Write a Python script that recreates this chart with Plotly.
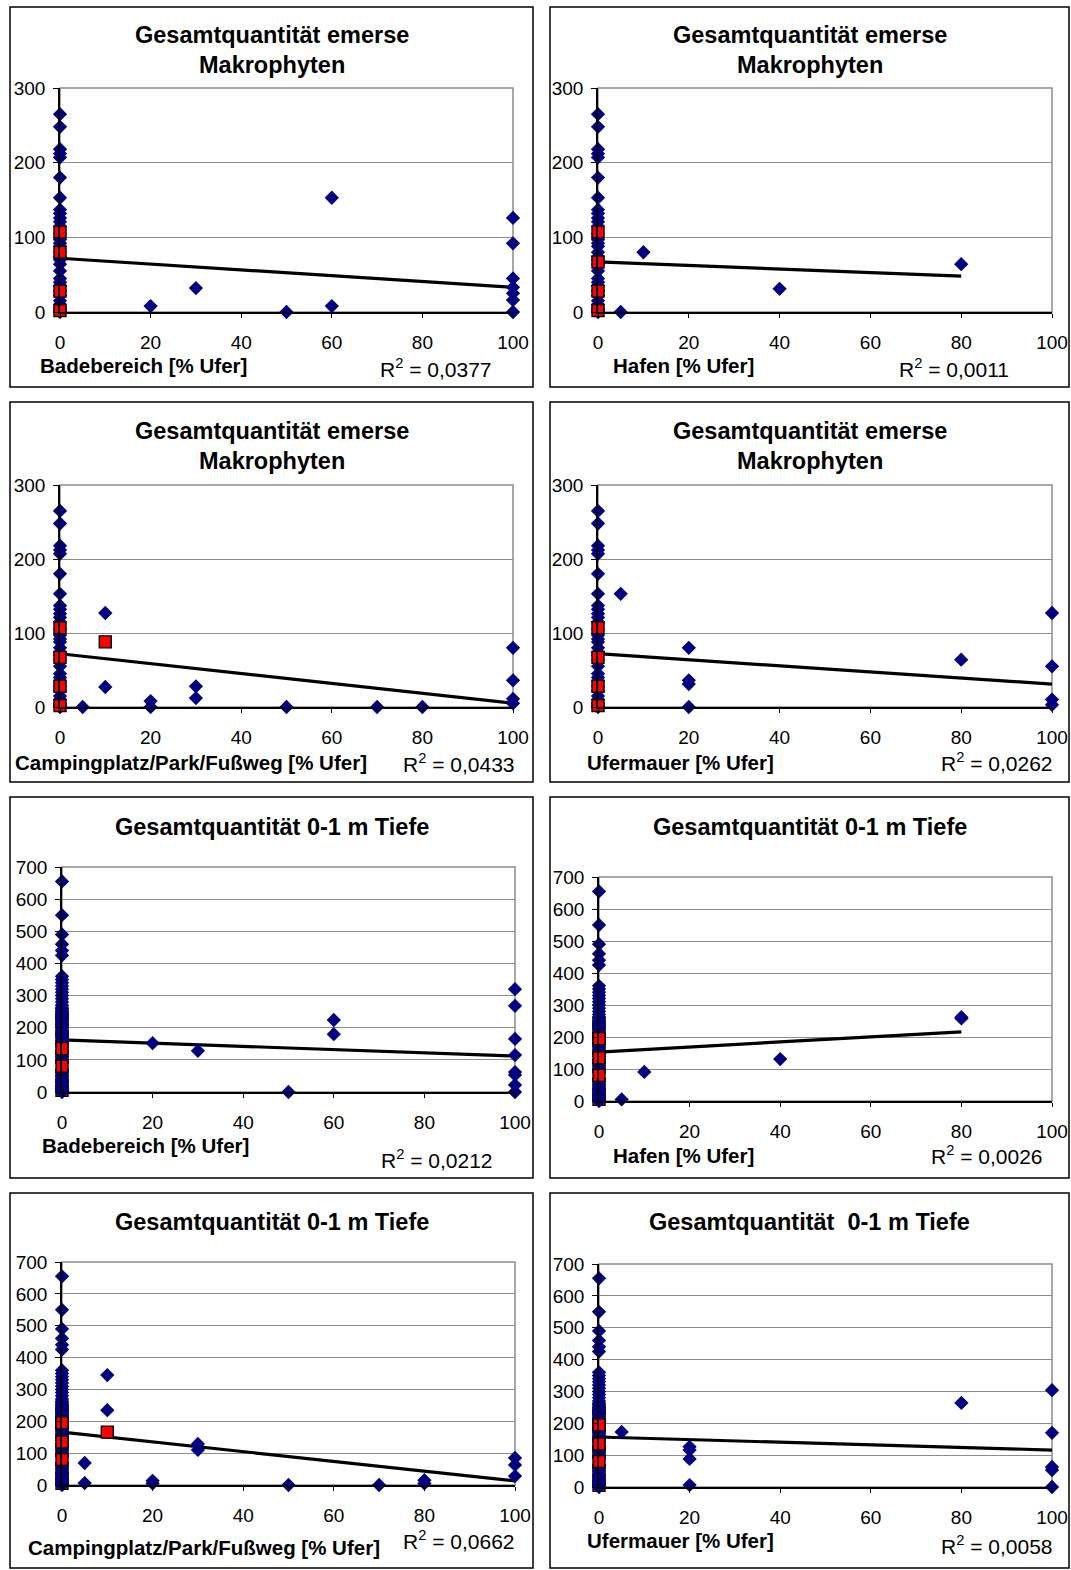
import plotly.graph_objects as go

W, H = 1071, 1570

# ---------------- data ----------------
# values at x = 0 (shared column of lakes)
emerse_x0_y = [265, 248, 218, 212, 207, 180, 153, 137, 132, 126, 121, 115, 105, 97, 92,
               88, 80, 74, 70, 64, 55, 45, 40, 35, 28, 22, 15, 10, 5, 2, 0]
tief_x0_y = [655, 550, 490, 460, 440, 425, 360, 350, 340, 330, 320, 310, 300, 290, 280,
             270, 260, 250, 240, 230, 220, 210, 200, 190, 180, 170, 160, 150, 140, 130,
             120, 110, 100, 90, 70, 60, 50, 40, 30, 20, 10, 5, 0]

# red squares at x = 0
emerse_red_bade_y = [107, 80, 28, 2]
emerse_red_y = [107, 67, 28, 2]
tief_red_under_y = [245, 225, 195, 165, 110, 50, 20, 5]
tief_red_over_bade_y = [135, 80]
tief_red_over_y = [195, 135, 80]

# non-zero shore fractions
bade_em_x = [20, 30, 50, 60, 60, 100, 100, 100, 100, 100, 100, 100]
bade_em_y = [8, 32, 0, 153, 8, 126, 92, 45, 33, 25, 16, 0]
hafen_em_x = [5, 10, 40, 80]
hafen_em_y = [0, 80, 31, 64]
camp_em_x = [5, 10, 10, 20, 20, 30, 30, 50, 70, 80, 100, 100, 100, 100]
camp_em_y = [0, 127, 27, 8, 0, 28, 12, 0, 0, 0, 80, 36, 11, 5]
camp_em_red_x = [10]
camp_em_red_y = [88]
mauer_em_x = [5, 20, 20, 20, 20, 80, 100, 100, 100, 100]
mauer_em_y = [153, 80, 36, 31, 0, 64, 127, 55, 10, 3]

bade_t_x = [20, 30, 50, 60, 60, 100, 100, 100, 100, 100, 100, 100, 100]
bade_t_y = [152, 128, 0, 224, 180, 320, 268, 165, 115, 62, 53, 22, 0]
hafen_t_x = [5, 10, 40, 80, 80]
hafen_t_y = [5, 91, 131, 262, 258]
camp_t_x = [5, 5, 10, 10, 20, 20, 30, 30, 50, 70, 80, 80, 100, 100, 100]
camp_t_y = [69, 6, 345, 235, 13, 5, 129, 110, 0, 0, 15, 5, 85, 63, 28]
camp_t_red_x = [10]
camp_t_red_y = [166]
mauer_t_x = [5, 20, 20, 20, 20, 80, 100, 100, 100, 100, 100]
mauer_t_y = [173, 126, 116, 88, 6, 264, 304, 170, 63, 53, 0]

# trend lines (start/end)
trend_x = {
    "p1": [0, 100], "p2": [0, 80], "p3": [0, 100], "p4": [0, 100],
    "p5": [0, 100], "p6": [0, 80], "p7": [0, 100], "p8": [0, 100],
}
trend_y = {
    "p1": [72, 33], "p2": [67, 48], "p3": [72, 5], "p4": [72, 31],
    "p5": [162, 112], "p6": [153, 216], "p7": [166, 13], "p8": [157, 116],
}

title_emerse = ["Gesamtquantität emerse", "Makrophyten"]
title_tief = ["Gesamtquantität 0-1 m Tiefe"]
title_tief2 = ["Gesamtquantität&nbsp; 0-1 m Tiefe"]
xlabels = ["Badebereich [% Ufer]", "Hafen [% Ufer]", "Campingplatz/Park/Fußweg [% Ufer]",
           "Ufermauer [% Ufer]", "Badebereich [% Ufer]", "Hafen [% Ufer]",
           "Campingplatz/Park/Fußweg [% Ufer]", "Ufermauer [% Ufer]"]
r2_values = ["0,0377", "0,0011", "0,0433", "0,0262", "0,0212", "0,0026", "0,0662", "0,0058"]
x_ticks = [0, 20, 40, 60, 80, 100]
y_ticks_em = [0, 100, 200, 300]
y_ticks_t = [0, 100, 200, 300, 400, 500, 600, 700]

# ---------------- layout geometry (pixels) ----------------
panels = [
    dict(key="p1", box=(10, 7, 533, 387), plot=(60, 88, 513, 312), title=title_emerse, ty=(35, 65),
         ymax=300, yt=y_ticks_em, x0y=emerse_x0_y, ox=bade_em_x, oy=bade_em_y,
         red_under=[], red_over=emerse_red_bade_y, rx=[], ry=[],
         xl=(38, 366), r2=(378, 368)),
    dict(key="p2", box=(550, 7, 1069, 387), plot=(598, 88, 1052, 312), title=title_emerse, ty=(35, 65),
         ymax=300, yt=y_ticks_em, x0y=emerse_x0_y, ox=hafen_em_x, oy=hafen_em_y,
         red_under=[], red_over=emerse_red_y, rx=[], ry=[],
         xl=(611, 366), r2=(897, 368)),
    dict(key="p3", box=(10, 402, 533, 782), plot=(60, 485, 513, 707), title=title_emerse, ty=(431, 461),
         ymax=300, yt=y_ticks_em, x0y=emerse_x0_y, ox=camp_em_x, oy=camp_em_y,
         red_under=[], red_over=emerse_red_y, rx=camp_em_red_x, ry=camp_em_red_y,
         xl=(13, 762), r2=(401, 763)),
    dict(key="p4", box=(550, 402, 1069, 782), plot=(598, 485, 1052, 707), title=title_emerse, ty=(431, 461),
         ymax=300, yt=y_ticks_em, x0y=emerse_x0_y, ox=mauer_em_x, oy=mauer_em_y,
         red_under=[], red_over=emerse_red_y, rx=[], ry=[],
         xl=(585, 762), r2=(939, 762)),
    dict(key="p5", box=(10, 797, 533, 1178), plot=(62, 867, 515, 1092), title=title_tief, ty=(827,),
         ymax=700, yt=y_ticks_t, x0y=tief_x0_y, ox=bade_t_x, oy=bade_t_y,
         red_under=tief_red_under_y, red_over=tief_red_over_bade_y, rx=[], ry=[],
         xl=(40, 1145), r2=(379, 1159)),
    dict(key="p6", box=(550, 797, 1069, 1178), plot=(599, 877, 1052, 1101), title=title_tief, ty=(827,),
         ymax=700, yt=y_ticks_t, x0y=tief_x0_y, ox=hafen_t_x, oy=hafen_t_y,
         red_under=tief_red_under_y, red_over=tief_red_over_y, rx=[], ry=[],
         xl=(611, 1155), r2=(929, 1155)),
    dict(key="p7", box=(10, 1193, 533, 1568), plot=(62, 1262, 515, 1485), title=title_tief, ty=(1222,),
         ymax=700, yt=y_ticks_t, x0y=tief_x0_y, ox=camp_t_x, oy=camp_t_y,
         red_under=tief_red_under_y, red_over=tief_red_over_y, rx=camp_t_red_x, ry=camp_t_red_y,
         xl=(26, 1547), r2=(401, 1540)),
    dict(key="p8", box=(550, 1193, 1069, 1568), plot=(599, 1264, 1052, 1487), title=title_tief2, ty=(1222,),
         ymax=700, yt=y_ticks_t, x0y=tief_x0_y, ox=mauer_t_x, oy=mauer_t_y,
         red_under=tief_red_under_y, red_over=tief_red_over_y, rx=[], ry=[],
         xl=(585, 1540), r2=(939, 1545)),
]

FONT = "Liberation Sans, Arial, sans-serif"
NAVY = "#000080"

def fx(px):
    return px / W

def fy(py):
    return 1 - py / H

fig = go.Figure()
shapes = []
annotations = []

diamond = dict(symbol="diamond", size=11, color=NAVY, line=dict(width=0))
square = dict(symbol="square", size=12, color="#FF0000", line=dict(width=1.4, color="black"))

for i, p in enumerate(panels):
    n = i + 1
    xa = "x" if n == 1 else f"x{n}"
    ya = "y" if n == 1 else f"y{n}"
    xk = "xaxis" if n == 1 else f"xaxis{n}"
    yk = "yaxis" if n == 1 else f"yaxis{n}"

    if p["red_under"]:
        fig.add_trace(go.Scatter(x=[0] * len(p["red_under"]), y=p["red_under"], mode="markers",
                                 marker=square, xaxis=xa, yaxis=ya, cliponaxis=False, showlegend=False))
    fig.add_trace(go.Scatter(x=trend_x[p["key"]], y=trend_y[p["key"]], mode="lines",
                             line=dict(color="black", width=3.2), xaxis=xa, yaxis=ya, showlegend=False))
    fig.add_trace(go.Scatter(x=[0] * len(p["x0y"]) + p["ox"], y=p["x0y"] + p["oy"], mode="markers",
                             marker=diamond, xaxis=xa, yaxis=ya, cliponaxis=False, showlegend=False))
    fig.add_trace(go.Scatter(x=[0] * len(p["red_over"]) + p["rx"], y=p["red_over"] + p["ry"], mode="markers",
                             marker=square, xaxis=xa, yaxis=ya, cliponaxis=False, showlegend=False))

    l, t, r, b = p["plot"]
    fig.layout[xk] = dict(domain=[fx(l), fx(r)], range=[0, 100], anchor=ya, tickvals=x_ticks,
                          showgrid=False, zeroline=False, showline=True, linecolor="black", linewidth=1.5,
                          ticks="outside", ticklen=4, tickcolor="black", tickwidth=1,
                          tickfont=dict(family=FONT, size=19, color="black"), ticklabelstandoff=8,
                          automargin=False, fixedrange=True)
    fig.layout[yk] = dict(domain=[fy(b), fy(t)], range=[0, p["ymax"]], anchor=xa, tickvals=p["yt"],
                          showgrid=True, gridcolor="#8c8c8c", gridwidth=1, zeroline=False,
                          showline=True, linecolor="black", linewidth=1.5,
                          ticks="outside", ticklen=5, tickcolor="black", tickwidth=1,
                          tickfont=dict(family=FONT, size=19, color="black"), ticklabelstandoff=4,
                          automargin=False, fixedrange=True)

    # grey plot-area border (top/right)
    shapes.append(dict(type="rect", xref=f"{xa} domain", yref=f"{ya} domain", x0=0, x1=1, y0=0, y1=1,
                       line=dict(color="#8c8c8c", width=1.5), layer="below"))
    # panel frame
    bl, bt, br, bb = p["box"]
    shapes.append(dict(type="rect", xref="paper", yref="paper", x0=fx(bl), x1=fx(br), y0=fy(bb), y1=fy(bt),
                       line=dict(color="black", width=1.5)))

    cx = (bl + br) / 2
    for line_txt, ty in zip(p["title"], p["ty"]):
        annotations.append(dict(text=f"<b>{line_txt}</b>", x=fx(cx), y=fy(ty), xref="paper", yref="paper",
                                xanchor="center", yanchor="middle", showarrow=False,
                                font=dict(family=FONT, size=23.5, color="black")))
    annotations.append(dict(text=f"<b>{xlabels[i]}</b>", x=fx(p["xl"][0]), y=fy(p["xl"][1]),
                            xref="paper", yref="paper", xanchor="left", yanchor="middle", showarrow=False,
                            font=dict(family=FONT, size=20.5, color="black")))
    annotations.append(dict(text=f"R<sup>2</sup> = {r2_values[i]}", x=fx(p["r2"][0]), y=fy(p["r2"][1]),
                            xref="paper", yref="paper", xanchor="left", yanchor="middle", showarrow=False,
                            font=dict(family=FONT, size=21, color="black")))

fig.update_layout(width=W, height=H, margin=dict(l=0, r=0, t=0, b=0, autoexpand=False),
                  paper_bgcolor="white", plot_bgcolor="white",
                  shapes=shapes, annotations=annotations, showlegend=False,
                  font=dict(family=FONT, color="black"))

fig.write_html("out.html")
